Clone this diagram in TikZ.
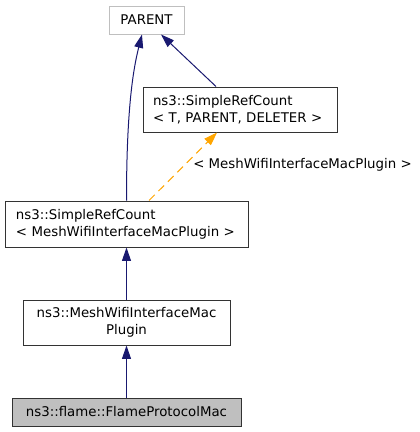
\documentclass[tikz,border=0pt]{standalone}
\usepackage{fontspec}
\setmainfont{DejaVu Sans}
\usetikzlibrary{arrows.meta}
\definecolor{edgeblue}{HTML}{191970}
\definecolor{edgeorange}{HTML}{FFA500}
\definecolor{lightborder}{HTML}{BFBFBF}
\definecolor{selfill}{HTML}{BFBFBF}
\begin{document}
\begin{tikzpicture}[x=0.75pt,y=-0.75pt,
  every node/.style={font=\fontsize{10}{12.75}\selectfont, inner ysep=0pt},
  box/.style={draw=black!80, line width=0.75pt, fill=white},
  inherit/.style={draw=edgeblue, line width=0.75pt, -{Triangle[length=10pt,width=6.7pt]}},
  templ/.style={draw=edgeorange, line width=0.75pt, dash pattern=on 6pt off 4pt, -{Triangle[length=10pt,width=6.7pt]}}]
\useasboundingbox (0,0) rectangle (420,432);
\node[box, draw=lightborder, minimum width=56.25pt, minimum height=21pt] (parent) at (146.5,20) {PARENT};
\node[box, text width=130.5pt, inner xsep=7.5pt, align=left, minimum height=33.75pt] (srct) at (240,109.5) {ns3::SimpleRefCount\\\textless{} T, PARENT, DELETER \textgreater};
\node[box, text width=165.75pt, inner xsep=8.25pt, align=left, minimum height=34.5pt] (srcm) at (126.5,224) {ns3::SimpleRefCount\\\textless{} MeshWifiInterfaceMacPlugin \textgreater};
\node[box, text width=140pt, inner xsep=7.625pt, align=center, minimum height=33.75pt] (mwimp) at (126.5,322.5) {ns3::MeshWifiInterfaceMac\\Plugin};
\node[box, fill=selfill, minimum width=171.75pt, minimum height=21pt] (fpm) at (126.5,412) {ns3::flame::FlameProtocolMac};
\node[anchor=west, inner xsep=0pt] (lbl) at (193,165) {\textless{} MeshWifiInterfaceMacPlugin \textgreater};
\draw[inherit] (fpm.north) -- (mwimp.south);
\draw[inherit] (mwimp.north) -- (srcm.south);
\draw[inherit] (srcm.north) .. controls (126.5,110) and (133,70) .. ([xshift=-3.4pt]parent.south);
\draw[inherit] ([xshift=-18pt]srct.north) -- ([xshift=10.9pt]parent.south);
\draw[templ] ([xshift=16.9pt]srcm.north) -- ([xshift=-17.2pt]srct.south);
\end{tikzpicture}
\end{document}
